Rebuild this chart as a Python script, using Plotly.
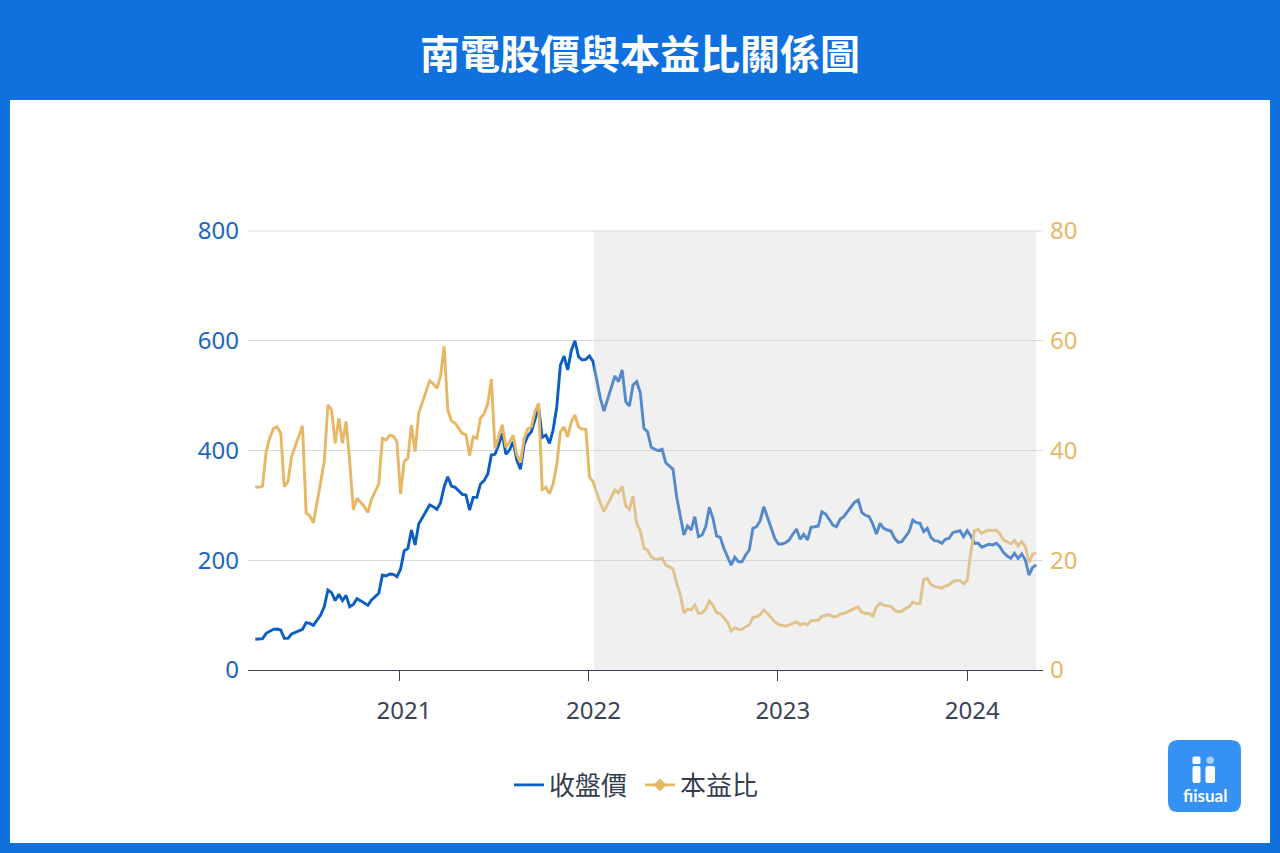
import pandas as pd
import plotly.graph_objects as go

# ---------------- data (weekly) ----------------
start_date = "2020-03-30"

price = [
    55.9, 55.9, 57.0, 66.8, 71.0, 74.1, 74.7, 72.9, 57.7, 57.7, 65.6, 68.5, 71.1,
    74.1, 86.3, 85.0, 81.4, 91.1, 100.2, 115.4, 145.8, 140.9, 126.4, 137.9, 126.4, 136.1,
    115.4, 119.6, 130.0, 126.4, 122.7, 117.8, 127.6, 133.6, 139.7, 173.1, 171.3, 174.9, 174.3,
    170.1, 183.5, 217.5, 221.1, 255.1, 227.8, 266.1, 277.6, 291.6, 300.7, 297.6, 292.8, 304.9,
    334.1, 352.3, 335.3, 332.9, 326.2, 320.1, 318.9, 291.6, 314.6, 314.6, 339.0, 345.0, 357.2,
    391.8, 393.0, 410.0, 431.3, 393.0, 400.9, 416.1, 382.7, 365.7, 410.0, 426.4, 434.3, 458.7,
    478.7, 424.0, 428.2, 413.1, 437.4, 479.8, 555.8, 572.2, 546.7, 581.9, 600.1, 571.0, 564.9,
    566.2, 572.2, 561.9, 525.4, 495.1, 472.0, 493.0, 514.0, 535.8, 525.4, 546.7, 488.9, 481.1,
    519.4, 525.4, 505.0, 440.4, 434.3, 405.8, 402.2, 399.7, 402.2, 377.8, 371.7, 365.7, 315.8,
    279.4, 246.0, 262.4, 255.1, 279.4, 242.9, 246.0, 261.1, 296.5, 276.4, 244.2, 241.8, 221.8,
    206.5, 191.3, 205.4, 197.4, 197.4, 209.6, 218.7, 258.2, 261.1, 272.1, 297.6, 279.4, 258.2,
    240.0, 229.6, 229.6, 232.0, 236.9, 247.8, 256.9, 238.2, 247.3, 236.9, 260.0, 261.1, 262.4,
    288.5, 284.3, 274.6, 264.2, 261.1, 274.6, 279.4, 288.5, 297.6, 306.1, 309.8, 286.7, 281.9,
    279.4, 266.1, 247.8, 267.3, 258.2, 255.1, 253.3, 240.0, 232.7, 233.9, 244.2, 252.1, 273.3,
    268.5, 267.3, 252.1, 258.2, 241.8, 235.6, 235.0, 230.9, 238.2, 240.0, 250.2, 252.1, 253.8,
    242.9, 253.8, 244.2, 230.9, 230.9, 223.6, 226.5, 229.0, 228.0, 230.9, 224.7, 213.8, 207.7,
    203.5, 212.7, 203.5, 211.4, 200.5, 173.1, 187.1, 191.3,
]

pe_ratio = [
    33.4, 33.3, 33.5, 39.8, 42.3, 44.0, 44.3, 43.2, 33.4, 34.3, 38.9, 40.8, 42.5,
    44.5, 28.6, 28.1, 26.8, 30.4, 33.7, 38.0, 48.3, 47.4, 41.3, 45.9, 41.3, 45.3,
    38.0, 29.2, 31.3, 30.5, 29.8, 28.7, 31.1, 32.5, 33.9, 42.2, 41.9, 42.8, 42.6,
    41.6, 32.1, 38.0, 38.6, 44.6, 39.8, 46.8, 48.9, 51.0, 52.7, 52.2, 51.3, 53.5,
    59.0, 47.4, 45.4, 45.0, 44.0, 43.1, 42.9, 39.1, 42.5, 42.2, 45.9, 46.7, 48.5,
    53.0, 40.4, 42.6, 44.7, 40.6, 41.5, 42.8, 39.2, 37.8, 42.2, 43.9, 44.3, 47.1,
    48.6, 32.9, 33.3, 32.1, 33.9, 37.4, 43.4, 44.3, 42.5, 45.2, 46.5, 44.3, 43.9,
    43.9, 35.2, 34.3, 32.2, 30.4, 28.9, 30.2, 31.5, 32.8, 32.3, 33.5, 29.9, 29.3,
    31.7, 26.7, 25.4, 22.2, 21.8, 20.6, 20.2, 20.2, 20.4, 19.1, 18.8, 18.4, 15.8,
    13.8, 10.4, 11.1, 10.9, 11.8, 10.3, 10.4, 11.1, 12.6, 11.8, 10.4, 10.3, 9.4,
    8.7, 7.1, 7.7, 7.4, 7.4, 7.9, 8.2, 9.6, 9.7, 10.1, 10.9, 10.3, 9.5,
    8.8, 8.3, 8.1, 8.0, 8.2, 8.5, 8.8, 8.2, 8.5, 8.2, 9.0, 9.0, 9.1,
    9.8, 10.0, 10.1, 9.7, 9.7, 10.2, 10.3, 10.6, 10.9, 11.2, 11.5, 10.5, 10.3,
    10.3, 9.8, 11.5, 12.2, 11.8, 11.7, 11.6, 10.9, 10.6, 10.7, 11.2, 11.5, 12.4,
    12.1, 12.1, 16.5, 16.7, 15.6, 15.2, 15.1, 14.9, 15.3, 15.5, 16.1, 16.3, 16.3,
    15.7, 16.4, 21.6, 25.4, 25.6, 24.9, 25.3, 25.5, 25.4, 25.5, 24.8, 23.7, 23.3,
    23.0, 23.6, 22.6, 23.4, 22.5, 19.6, 21.1, 21.4,
]

series_names = ["收盤價", "本益比"]
title_text = "南電股價與本益比關係圖"
x_range = ["2020-03-16", "2024-05-26"]
shade_start = "2022-01-12"
left_ticks = [0, 200, 400, 600, 800]
right_ticks = [0, 20, 40, 60, 80]

dates = pd.date_range(start_date, periods=len(price), freq="7D")
shade_end = dates[-1]

# ---------------- styles ----------------
FRAME = "#0f70de"
PRICE_C = "#0b5fc4"
PE_C = "#e7b764"
LEFT_TICK_C = "#1a66c2"
RIGHT_TICK_C = "#e4b865"
AXIS_TXT = "#3a4356"

# plot area in pixels
L, R, T, B = 248, 1043, 231, 670
W, H = 1280, 853


def px(x):
    return (x - L) / (R - L)


def py(y):
    return (B - y) / (B - T)


def rrect(x0, y0, x1, y1, r):
    rx = r / (R - L)
    ry = r / (B - T)
    a, b, c, d = px(x0), py(y1), px(x1), py(y0)  # left, bottom, right, top
    return (f"M {a+rx},{b} L {c-rx},{b} Q {c},{b} {c},{b+ry} L {c},{d-ry} "
            f"Q {c},{d} {c-rx},{d} L {a+rx},{d} Q {a},{d} {a},{d-ry} "
            f"L {a},{b+ry} Q {a},{b} {a+rx},{b} Z")


fig = go.Figure()

fig.add_trace(go.Scatter(
    x=dates, y=pe_ratio, name=series_names[1], mode="lines",
    line=dict(color=PE_C, width=2.9), yaxis="y2",
    showlegend=False, legendgroup="pe"))
fig.add_trace(go.Scatter(
    x=dates, y=price, name=series_names[0], mode="lines",
    line=dict(color=PRICE_C, width=2.9), yaxis="y", legendgroup="price"))
fig.add_trace(go.Scatter(
    x=[None], y=[None], name=series_names[1], mode="lines+markers",
    line=dict(color=PE_C, width=2.9),
    marker=dict(symbol="diamond", size=10, color=PE_C),
    yaxis="y2", legendgroup="pe"))

shapes = [
    # white panel
    dict(type="rect", xref="paper", yref="paper",
         x0=px(10), x1=px(1270), y0=py(843), y1=py(100),
         fillcolor="white", line=dict(width=0), layer="below"),
    # top gridline (800)
    dict(type="line", xref="paper", yref="paper", x0=0, x1=1, y0=1, y1=1,
         line=dict(color="#d9d9d9", width=1), layer="below"),
    # shaded period (drawn above the lines so they look paler)
    dict(type="rect", xref="x", yref="paper",
         x0=shade_start, x1=shade_end, y0=0, y1=1,
         fillcolor="rgba(213,213,213,0.36)", line=dict(width=0), layer="above"),
    # logo
    dict(type="path", xref="paper", yref="paper",
         path=rrect(1168, 740, 1241, 812, 10),
         fillcolor="#3592f2", line=dict(width=0), layer="above"),
    dict(type="path", xref="paper", yref="paper",
         path=rrect(1192.5, 756.5, 1200.5, 764, 1.5),
         fillcolor="white", line=dict(width=0), layer="above"),
    dict(type="path", xref="paper", yref="paper",
         path=rrect(1192.5, 766, 1200.5, 783, 2),
         fillcolor="white", line=dict(width=0), layer="above"),
    dict(type="path", xref="paper", yref="paper",
         path=rrect(1205.5, 766, 1215, 783, 2),
         fillcolor="white", line=dict(width=0), layer="above"),
    dict(type="circle", xref="paper", yref="paper",
         x0=px(1206.5), x1=px(1214), y0=py(764), y1=py(756.5),
         fillcolor="#a8cff9", line=dict(width=0), layer="above"),
]

annotations = [
    dict(xref="paper", yref="paper", x=px(1204.5), y=py(795),
         text="<b>fiisual</b>", showarrow=False,
         font=dict(family="Lato", size=17, color="white"),
         xanchor="center", yanchor="middle"),
]

fig.update_layout(
    width=W, height=H,
    paper_bgcolor=FRAME, plot_bgcolor="rgba(0,0,0,0)",
    margin=dict(l=L, r=W - R, t=T, b=H - B, pad=0),
    title=dict(text=title_text, x=0.5, xref="container", xanchor="center",
               y=1 - 55 / H, yref="container", yanchor="middle",
               font=dict(family="Noto Sans CJK TC", size=40, color="white",
                         weight="bold")),
    xaxis=dict(range=x_range, type="date",
               tickmode="linear", tick0="2021-01-01", dtick="M12",
               tickformat="%Y", showgrid=False, zeroline=False,
               showline=True, linecolor="#3a4356", linewidth=1,
               ticks="outside", ticklen=10, tickcolor="#3a4356",
               ticklabelstandoff=9, ticklabelshift=5,
               tickfont=dict(family="Noto Sans", size=24, color=AXIS_TXT)),
    yaxis=dict(range=[0, 800], tickvals=left_ticks,
               showgrid=True, gridcolor="#d9d9d9", gridwidth=1,
               zeroline=False, showline=False, ticks="",
               ticklabelstandoff=8,
               tickfont=dict(family="Noto Sans", size=24, color=LEFT_TICK_C)),
    yaxis2=dict(range=[0, 80], tickvals=right_ticks, overlaying="y",
                side="right", showgrid=False, zeroline=False, showline=False,
                ticks="", ticklabelstandoff=6,
                tickfont=dict(family="Noto Sans", size=24, color=RIGHT_TICK_C)),
    legend=dict(orientation="h", x=px(640), xanchor="center",
                y=py(785), yanchor="middle", bgcolor="rgba(0,0,0,0)",
                font=dict(family="Noto Sans CJK TC", size=26, color="#333d4f"),
                itemwidth=30, entrywidth=86, entrywidthmode="pixels",
                traceorder="normal"),
    shapes=shapes,
    annotations=annotations,
    showlegend=True,
    hovermode=False,
)

fig.write_html(
    "out.html",
    config={"displayModeBar": False},
    post_script="document.body.style.margin='0px';"
                "document.body.style.overflow='hidden';",
)
